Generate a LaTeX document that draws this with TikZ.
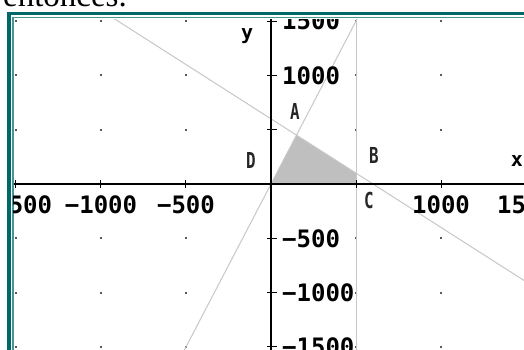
\documentclass[tikz,border=0pt]{standalone}
\usepackage{fontspec}
\setmainfont{Liberation Serif}
\newfontfamily\calcfont{DejaVu Sans Mono}
\newfontfamily\vertfont[FakeStretch=0.72]{DejaVu Sans Mono}
\definecolor{frameteal}{RGB}{0,104,104}
\definecolor{frametealthin}{RGB}{70,150,150}

\begin{document}
\begin{tikzpicture}[x=0.17pt,y=0.1086pt]
  \tikzset{
    region line/.style={draw=black!22,line width=1pt},
    tick label/.style={font=\calcfont\bfseries\fontsize{24}{24}\selectfont,inner sep=0pt},
    vertex label/.style={font=\vertfont\bfseries\fontsize{22}{22}\selectfont,inner sep=0pt,text=black!85},
    axis label/.style={font=\calcfont\bfseries\fontsize{20}{20}\selectfont,inner sep=0pt,anchor=base},
    grid dot/.style={fill=black!65}
  }
  \useasboundingbox (-1594.1,-1528.5) rectangle (1488.2,1694.3);

  % end of the sentence above the window, cut by the page edge
  \node[anchor=base east,inner sep=0pt,font=\fontsize{33}{33}\selectfont]
    (intro) at (-847,1639) {entonces.};

  % window frame, right and bottom run off the page
  \draw[frameteal,line width=3.8pt] (-1541,-2000) -- (-1541,1570) -- (2000,1570);
  \draw[frametealthin,line width=1.2pt] (-1518,-2000) -- (-1518,1533) -- (2000,1533);

  \begin{scope}
    \clip (-1512,-1600) rectangle (1600,1519);

    % grid dots every 500
    \foreach \i in {-1500,-1000,...,1500}
      \foreach \j in {-1500,-1000,...,1500}
        \fill[grid dot] (\i,\j) ++(-1pt,-1pt) rectangle ++(2pt,2pt);

    % vertices of the feasible region
    \coordinate (D) at (0,0);
    \coordinate (A) at (150,450);
    \coordinate (B) at (500,100);
    \coordinate (C) at (500,0);
    \fill[gray!50] (D) -- (A) -- (B) -- (C) -- cycle;

    % the three boundary lines: y=3x, x+y=600, x=500
    \draw[region line] (-600,-1800) coordinate (L1s) -- (600,1800) coordinate (L1e);
    \draw[region line] (-1200,1800) coordinate (L2s) -- (1700,-1100) coordinate (L2e);
    \draw[region line] (500,-1800) coordinate (L3s) -- (500,1800) coordinate (L3e);

    % axes with ticks
    \draw[line width=1.5pt] (-1700,0) -- (1700,0) coordinate (X);
    \draw[line width=1.5pt] (0,-1700) -- (0,1700) coordinate (Y);
    \foreach \t in {-1500,-1000,-500,500,1000,1500} {
      \draw[line width=1pt] (\t,0) ++(0,-4pt) -- ++(0,8pt);
      \draw[line width=1pt] (0,\t) ++(-4pt,0) -- ++(10pt,0);
    }

    % tick labels (500 is hidden by the region)
    \foreach \t/\s in {-1500/−1500,-1000/−1000,-500/−500,1000/1000,1500/1500}
      \node[tick label,yshift=-21pt] at (\t,0) {\s};
    \foreach \t/\s in {1500/1500,1000/1000,-500/−500,-1000/−1000,-1500/−1500}
      \node[tick label,anchor=west,xshift=11pt] at (0,\t) {\s};

    % labels
    \node[axis label] (xlab) at (1447,157) {x};
    \node[axis label] (ylab) at (-141,1335) {y};
    \node[vertex label,xshift=-1.5pt,yshift=24pt] (lA) at (A) {A};
    \node[vertex label,xshift=18pt,yshift=18pt] (lB) at (B) {B};
    \node[vertex label,xshift=13pt,yshift=-16pt] (lC) at (C) {C};
    \node[vertex label,xshift=-20pt,yshift=24pt] (lD) at (D) {D};
  \end{scope}
\end{tikzpicture}
\end{document}
